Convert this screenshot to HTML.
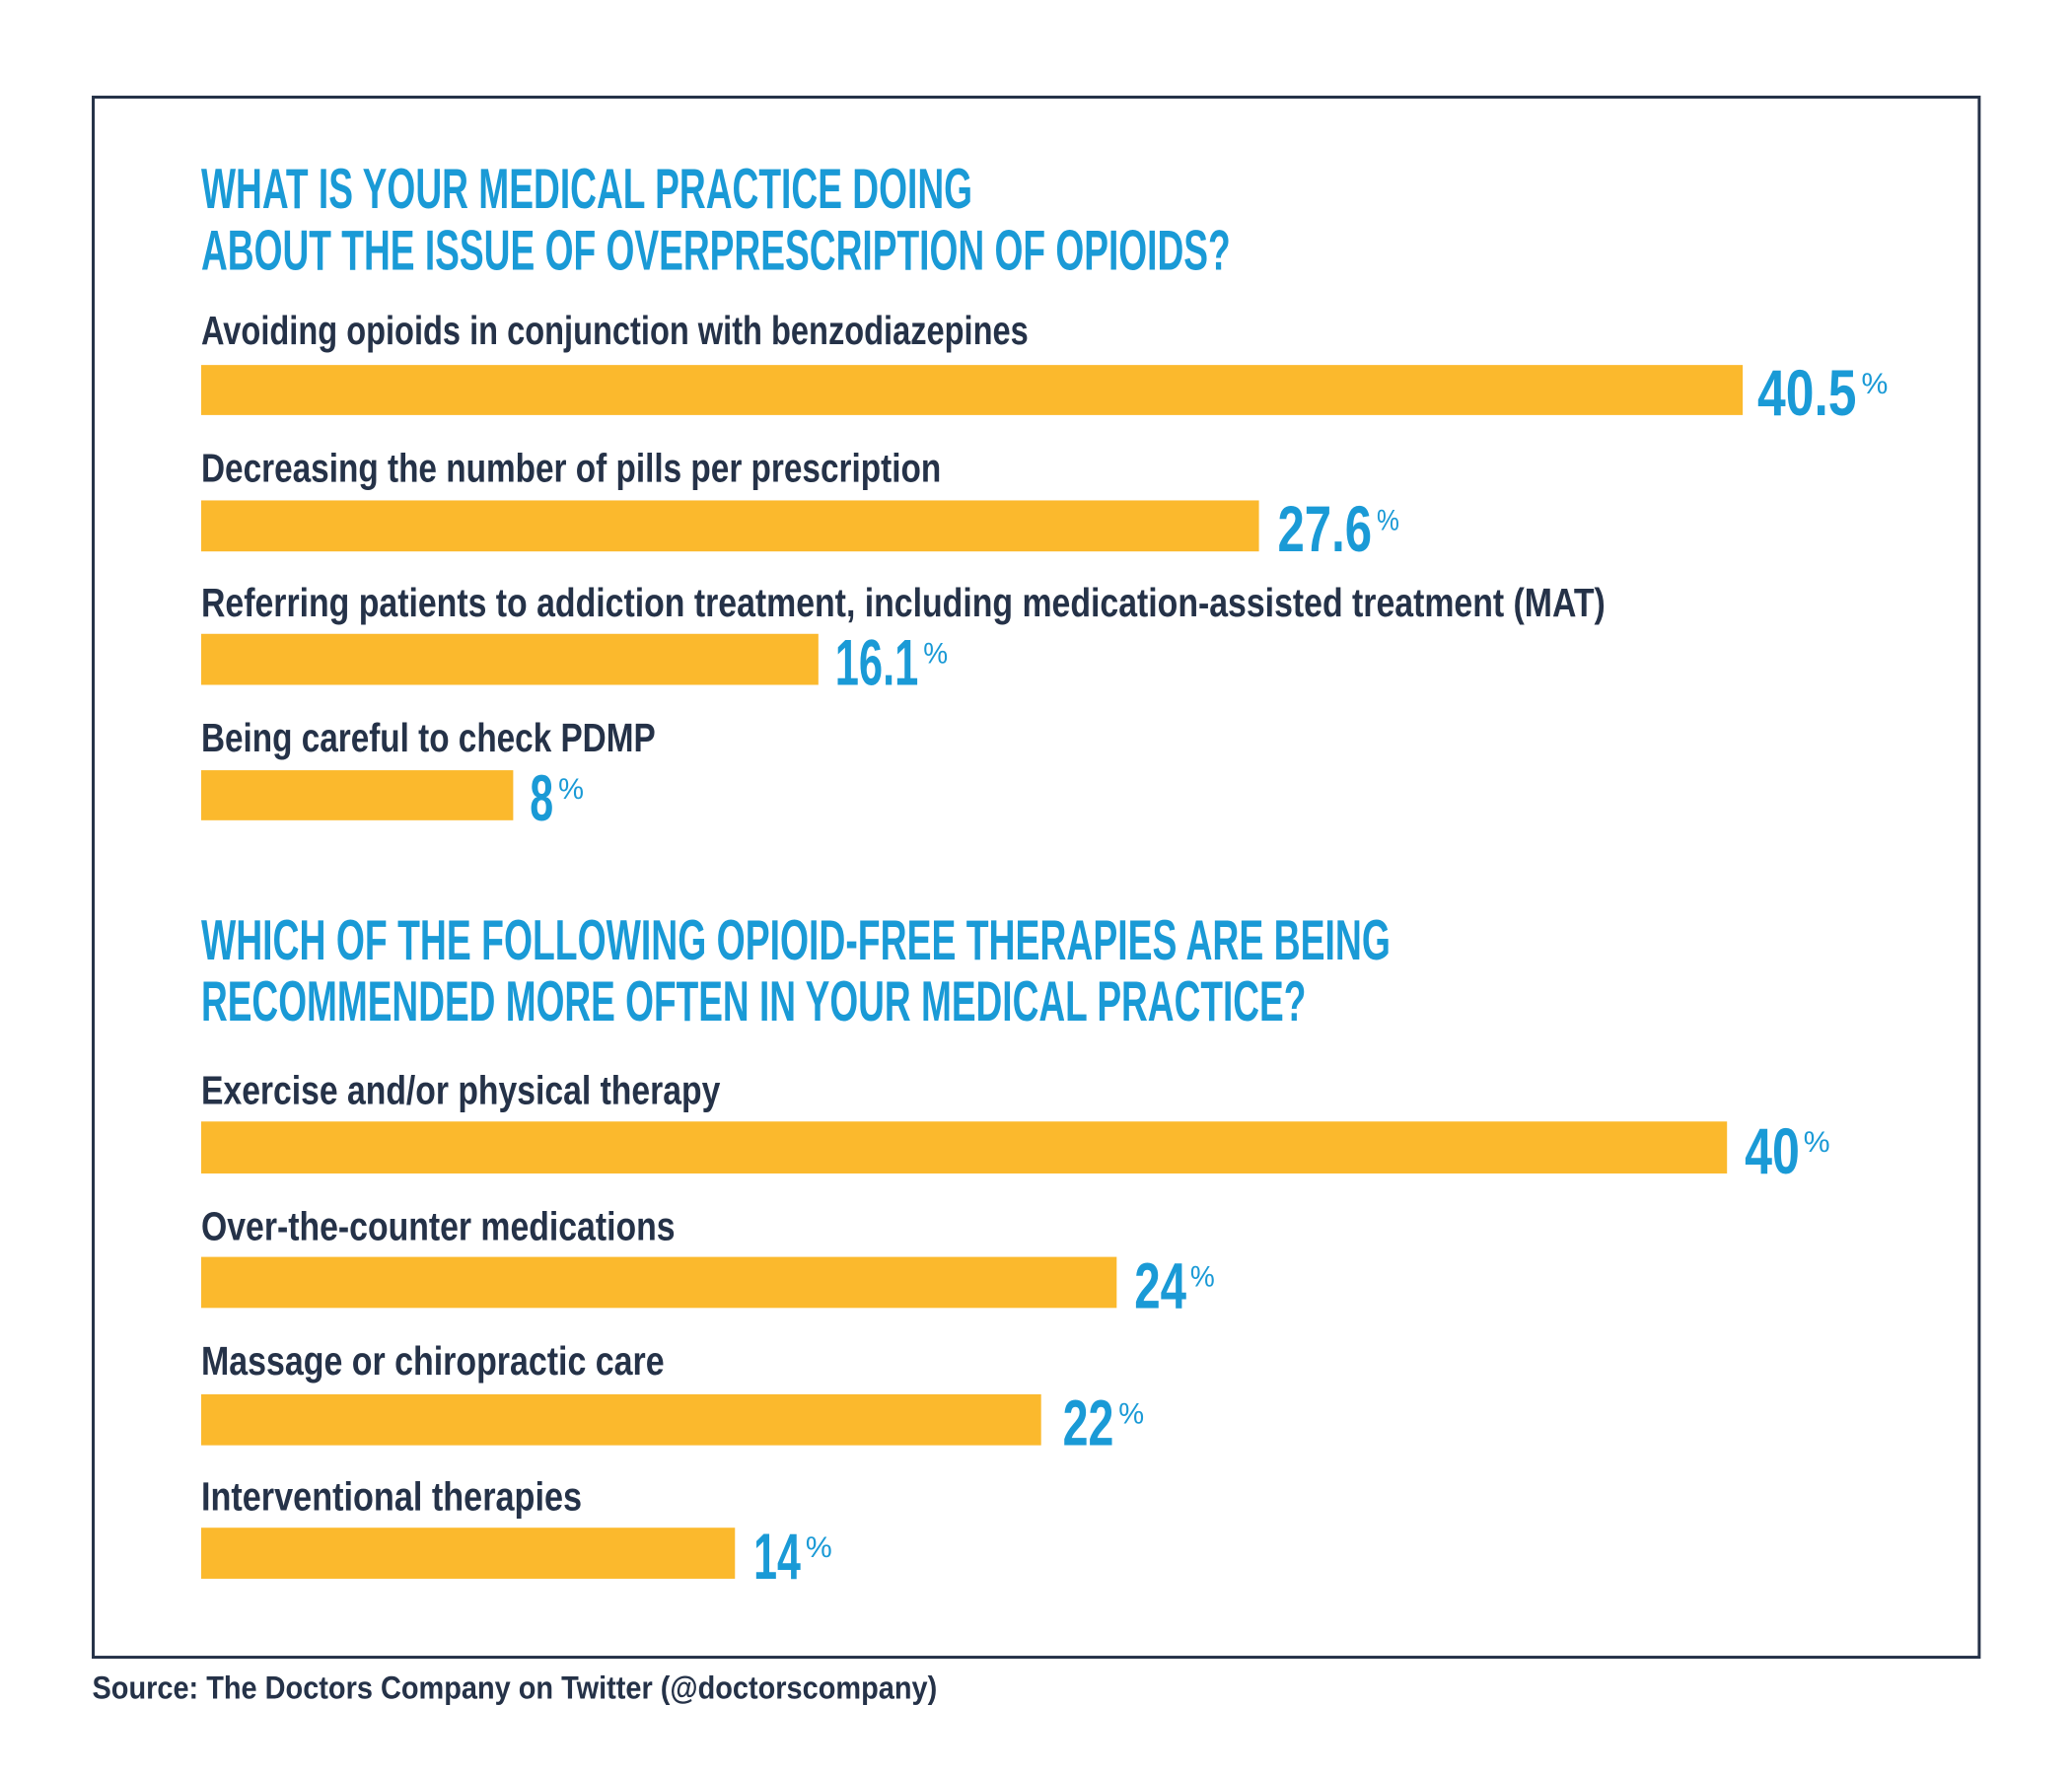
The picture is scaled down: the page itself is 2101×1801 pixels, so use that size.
<!DOCTYPE html>
<html><head><meta charset="utf-8"><style>html,body{margin:0;padding:0;background:#fff}svg{display:block}</style></head>
<body>
<svg width="2101" height="1801" viewBox="0 0 2101 1801" xmlns="http://www.w3.org/2000/svg" font-family="'Liberation Sans Narrow','Liberation Sans',sans-serif" font-weight="bold">
<g transform="scale(0.995)">
<rect x="95" y="99" width="1922" height="1590" fill="none" stroke="#253248" stroke-width="3"/>
<g fill="#1a9ad6" font-size="58">
<text x="205" y="212" textLength="786" lengthAdjust="spacingAndGlyphs">WHAT IS YOUR MEDICAL PRACTICE DOING</text>
<text x="205" y="275" textLength="1049" lengthAdjust="spacingAndGlyphs">ABOUT THE ISSUE OF OVERPRESCRIPTION OF OPIOIDS?</text>
<text x="205" y="978" textLength="1212" lengthAdjust="spacingAndGlyphs">WHICH OF THE FOLLOWING OPIOID-FREE THERAPIES ARE BEING</text>
<text x="205" y="1040" textLength="1126" lengthAdjust="spacingAndGlyphs">RECOMMENDED MORE OFTEN IN YOUR MEDICAL PRACTICE?</text>
</g>
<g fill="#253248" font-size="41">
<text x="205" y="351" textLength="843" lengthAdjust="spacingAndGlyphs">Avoiding opioids in conjunction with benzodiazepines</text>
<text x="205" y="491" textLength="754" lengthAdjust="spacingAndGlyphs">Decreasing the number of pills per prescription</text>
<text x="205" y="628" textLength="1431" lengthAdjust="spacingAndGlyphs">Referring patients to addiction treatment, including medication-assisted treatment (MAT)</text>
<text x="205" y="766" textLength="463" lengthAdjust="spacingAndGlyphs">Being careful to check PDMP</text>
<text x="205" y="1125" textLength="529" lengthAdjust="spacingAndGlyphs">Exercise and/or physical therapy</text>
<text x="205" y="1264" textLength="483" lengthAdjust="spacingAndGlyphs">Over-the-counter medications</text>
<text x="205" y="1401" textLength="472" lengthAdjust="spacingAndGlyphs">Massage or chiropractic care</text>
<text x="205" y="1539" textLength="388" lengthAdjust="spacingAndGlyphs">Interventional therapies</text>
<text x="94" y="1731" font-size="33" textLength="861" lengthAdjust="spacingAndGlyphs">Source: The Doctors Company on Twitter (@doctorscompany)</text>
</g>
<g fill="#fbb92d">
<rect x="205" y="372" width="1571" height="51"/>
<rect x="205" y="510" width="1078" height="52"/>
<rect x="205" y="646" width="629" height="52"/>
<rect x="205" y="785" width="318" height="51"/>
<rect x="205" y="1143" width="1555" height="53"/>
<rect x="205" y="1281" width="933" height="52"/>
<rect x="205" y="1421" width="856" height="52"/>
<rect x="205" y="1557" width="544" height="52"/>
</g>
<g fill="#1a9ad6" font-size="66">
<text x="1791" y="423" textLength="101" lengthAdjust="spacingAndGlyphs">40.5</text>
<text x="1302" y="562" textLength="96" lengthAdjust="spacingAndGlyphs">27.6</text>
<text x="851" y="698" textLength="85" lengthAdjust="spacingAndGlyphs">16.1</text>
<text x="540" y="836" textLength="24" lengthAdjust="spacingAndGlyphs">8</text>
<text x="1778" y="1196" textLength="56" lengthAdjust="spacingAndGlyphs">40</text>
<text x="1156" y="1333" textLength="53" lengthAdjust="spacingAndGlyphs">24</text>
<text x="1083" y="1473" textLength="52" lengthAdjust="spacingAndGlyphs">22</text>
<text x="768" y="1609" textLength="48" lengthAdjust="spacingAndGlyphs">14</text>
</g>
<g fill="#1a9ad6" font-size="30" font-weight="normal">
<text x="1897" y="401" textLength="27" lengthAdjust="spacingAndGlyphs">%</text>
<text x="1403" y="540" textLength="23" lengthAdjust="spacingAndGlyphs">%</text>
<text x="941" y="676" textLength="25" lengthAdjust="spacingAndGlyphs">%</text>
<text x="569" y="814" textLength="26" lengthAdjust="spacingAndGlyphs">%</text>
<text x="1838" y="1174" textLength="27" lengthAdjust="spacingAndGlyphs">%</text>
<text x="1213" y="1311" textLength="25" lengthAdjust="spacingAndGlyphs">%</text>
<text x="1140" y="1451" textLength="26" lengthAdjust="spacingAndGlyphs">%</text>
<text x="821" y="1587" textLength="27" lengthAdjust="spacingAndGlyphs">%</text>
</g>
</g>
</svg>
</body></html>
